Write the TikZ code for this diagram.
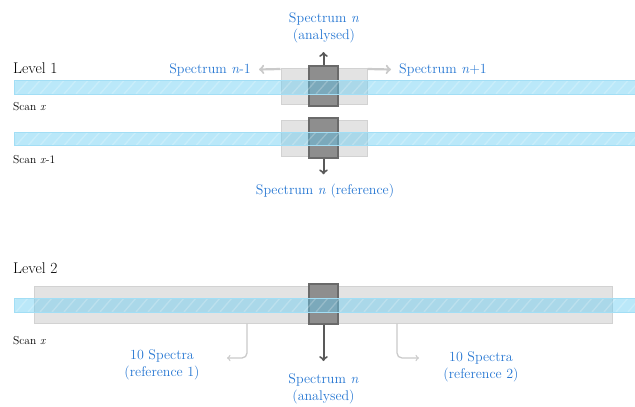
\documentclass[tikz,border=0pt]{standalone}
\usepackage{tikz}
\usetikzlibrary{positioning, arrows, calc}
\definecolor{specblue}{HTML}{2576D2}
\definecolor{winfill}{HTML}{E3E3E3}
\definecolor{winedge}{HTML}{D2D2D2}
\definecolor{boxfill}{HTML}{8E8E8E}
\definecolor{boxedge}{HTML}{6A6A6A}
\definecolor{stripfill}{HTML}{66CCF2}
\definecolor{stripedge}{HTML}{A2DEF5}
\definecolor{arrdark}{HTML}{595959}
\definecolor{arrlight}{HTML}{CACACA}
\newcommand{\scanstrip}[2]{%
  \fill[stripfill, fill opacity=0.45] (14,#1) rectangle (635,#2);
  \begin{scope}
    \clip (14,#1) rectangle (635,#2);
    \foreach \i in {4,16,...,640}
      \draw[white, line width=1.3pt, opacity=0.22] (\i,#2) -- ++(12,#1-#2);
  \end{scope}
  \draw[stripedge, line width=0.7pt] (14,#1) rectangle (635,#2);
}
\tikzset{
    lbl/.style={text=specblue, font=\fontsize{14}{17}\selectfont, inner sep=0pt, align=center},
    lvl/.style={font=\fontsize{15.5}{18}\selectfont, inner sep=0pt, anchor=base west},
    scan/.style={font=\fontsize{11.5}{13}\selectfont, inner sep=0pt, anchor=base west},
    window/.style={draw=winedge, fill=winfill, line width=1pt, inner sep=0pt},
    spec/.style={draw=boxedge, fill=boxfill, line width=1.2pt, inner sep=0pt, minimum width=29pt, minimum height=40pt},
}

\begin{document}
\begin{tikzpicture}[x=1pt, y=-1pt]
    \tikzset{
      dark/.style={->, draw=arrdark, line width=2pt},
      light/.style={->, draw=arrlight, line width=2.2pt},
      thin/.style={->, draw=arrlight, line width=1.3pt, rounded corners=5pt}
    }
    \useasboundingbox (0,0) rectangle (635,407);

    % level 1
    \node[lvl] (lv1) at (13,73) {Level 1};
    \node[window, minimum width=86pt, minimum height=36pt] (w1) at (324,86) {};
    \node[spec] (n1) at (323.5,86) {};
    \node[window, minimum width=86pt, minimum height=36pt] (w2) at (324,138) {};
    \node[spec] (n2) at (323.5,138) {};
    \scanstrip{80.5}{94}
    \scanstrip{132}{145.5}
    \node[scan] (sx) at (13,110) {Scan \textit{x}};
    \node[scan] (sx1) at (13,163) {Scan \textit{x}-1};

    \node[lbl, anchor=south] (an1) at (324,43) {Spectrum \textit{n}\\(analysed)};
    \node[lbl, anchor=east] (prev) at (251,69.5) {Spectrum \textit{n}-1};
    \node[lbl, anchor=west] (next) at (399,69.5) {Spectrum \textit{n}+1};
    \node[lbl, anchor=base] (ref) at (325,194) {Spectrum \textit{n} (reference)};

    \draw[dark, shorten >=9pt] (n1.north) -- (n1.north |- an1.south);
    \draw[dark, shorten >=9pt] (n2.south) -- (n2.south |- ref.north);
    \draw[light] ([yshift=-1.5pt]w1.north west) -- ([xshift=8pt]prev.east);
    \draw[light] ([yshift=-1.5pt]w1.north east) -- ([xshift=-8pt]next.west);

    % level 2
    \node[lvl] (lv2) at (13,273) {Level 2};
    \node[window, minimum width=578pt, minimum height=37pt] (w3) at (323,304.5) {};
    \node[spec] (n3) at (323.5,304) {};
    \scanstrip{298}{312}
    \node[scan] (sx2) at (13,344) {Scan \textit{x}};

    \node[lbl, anchor=north] (an2) at (323.5,373) {Spectrum \textit{n}\\(analysed)};
    \node[lbl, anchor=north] (ref1) at (162,349) {10 Spectra\\(reference 1)};
    \node[lbl, anchor=north] (ref2) at (481,351) {10 Spectra\\(reference 2)};
    \coordinate (e1) at (227,358);
    \coordinate (e2) at (419,358);

    \draw[dark, shorten >=12pt] (n3.south) -- (n3.south |- an2.north);
    \draw[thin] ([xshift=-76pt]w3.south) |- (e1);
    \draw[thin] ([xshift=74pt]w3.south) |- (e2);
\end{tikzpicture}
\end{document}
